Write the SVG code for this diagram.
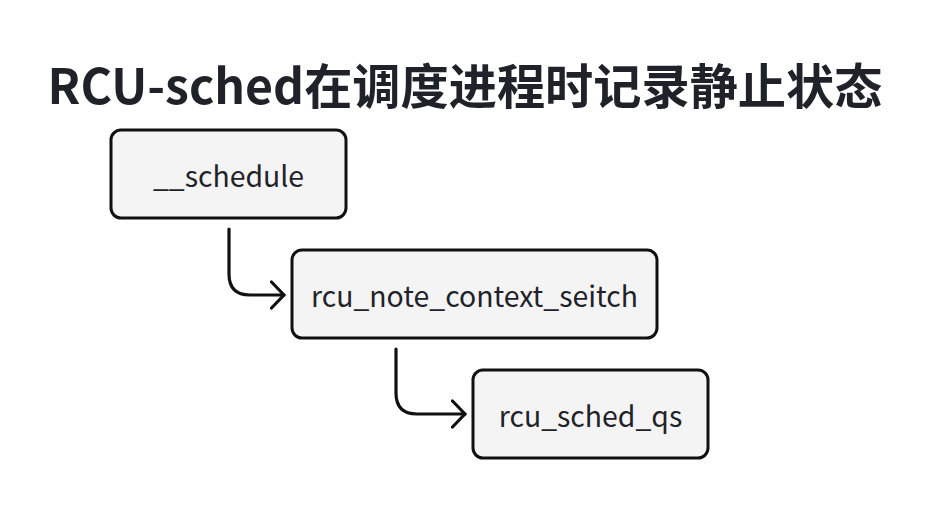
<svg xmlns="http://www.w3.org/2000/svg" width="930" height="510" viewBox="0 0 930 510">
<defs>
<style>
.title{font-family:"Noto Sans CJK SC","Noto Sans",sans-serif;font-weight:700;font-size:48.2px;fill:#1f2329;}
.box{fill:#f4f4f4;stroke:#111;stroke-width:3;}
.lbl{font-family:"Noto Sans CJK SC","Noto Sans",sans-serif;font-size:28.4px;fill:#1f2329;text-anchor:middle;}
.conn{fill:none;stroke:#111;stroke-width:3.2;stroke-linecap:round;stroke-linejoin:round;}
</style>
<marker id="arr" viewBox="0 0 16 30" refX="14.5" refY="15" markerWidth="16" markerHeight="30" markerUnits="userSpaceOnUse" orient="auto">
<path d="M2 2 L14.5 15 L2 28" fill="none" stroke="#111" stroke-width="3.2" stroke-linecap="round" stroke-linejoin="round"/>
</marker>
</defs>
<rect width="930" height="510" fill="#fff"/>
<text class="title" x="465" y="104" text-anchor="middle">RCU-sched在调度进程时记录静止状态</text>
<g id="connectors">
<path class="conn" d="M229 229 V274 Q229 295 250 295 H284" marker-end="url(#arr)"/>
<path class="conn" d="M396 349 V393 Q396 414 417 414 H465" marker-end="url(#arr)"/>
</g>
<g id="node-schedule">
<rect class="box" x="111" y="130" width="235" height="88" rx="10"/>
<text class="lbl" x="228.5" y="187">__schedule</text>
</g>
<g id="node-rcu_note_context_seitch">
<rect class="box" x="292" y="250" width="365" height="88" rx="10"/>
<text class="lbl" x="474.5" y="307">rcu_note_context_seitch</text>
</g>
<g id="node-rcu_sched_qs">
<rect class="box" x="473" y="370" width="235" height="88" rx="10"/>
<text class="lbl" x="590.5" y="427">rcu_sched_qs</text>
</g>
</svg>
